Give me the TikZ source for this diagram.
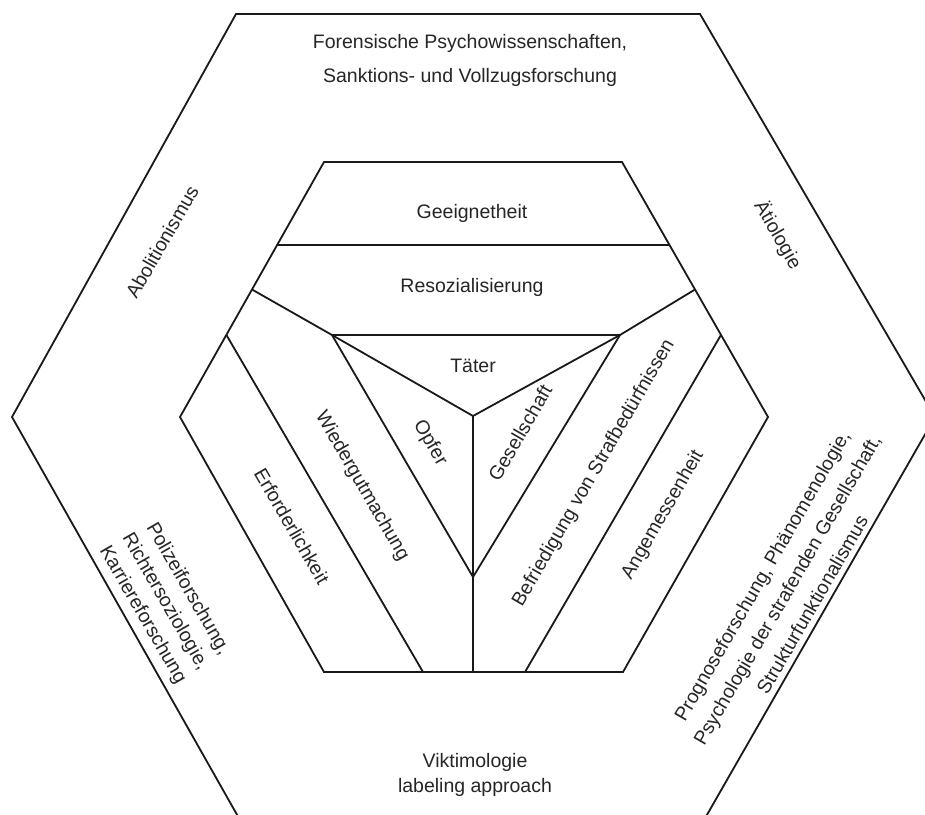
\documentclass[tikz,border=0pt]{standalone}
\usepackage{fontspec}
\setmainfont{Liberation Sans}
\usetikzlibrary{calc}
\begin{document}
\begin{tikzpicture}[x=1pt,y=-1pt,
  frame/.style={line width=1.8pt, line join=miter, draw=black!90},
  lbl/.style={font=\fontsize{19.5}{26}\selectfont, text=black!85, align=center, inner sep=0pt}]
\useasboundingbox (0,0) rectangle (925,814);
\fill[white] (0,0) rectangle (925,814);
\clip (0,0) rectangle (925,814);

% outer hexagon
\coordinate (o1) at (236,14);
\coordinate (o2) at (700,14);
\coordinate (o3) at (935,417);
\coordinate (o4) at (704,820);
\coordinate (o5) at (240,820);
\coordinate (o6) at (12,417);
% inner hexagon
\coordinate (h1) at (324,162);
\coordinate (h2) at (622,162);
\coordinate (h3) at (768,417);
\coordinate (h4) at (623,672);
\coordinate (h5) at (324,672);
\coordinate (h6) at (180,417);
% dividing points on the inner hexagon
\coordinate (gL) at ($(h1)!0.325!(h6)$);
\coordinate (gR) at ($(h2)!0.325!(h3)$);
\coordinate (rL) at ($(h1)!0.5!(h6)$);
\coordinate (rR) at ($(h2)!0.5!(h3)$);
\coordinate (sL) at ($(h1)!0.678!(h6)$);
\coordinate (sR) at ($(h2)!0.678!(h3)$);
\coordinate (bL) at (423,672);
\coordinate (bM) at (473,672);
\coordinate (bR) at (525,672);
% central triangle
\coordinate (t1) at (332,335);
\coordinate (t2) at (620,335);
\coordinate (c)  at (473,416);
\coordinate (b)  at (473,577);

\draw[frame] (o1)--(o2)--(o3)--(o4)--(o5)--(o6)--cycle;
\draw[frame] (h1)--(h2)--(h3)--(h4)--(h5)--(h6)--cycle;
\draw[frame] (gL)--(gR);
\draw[frame] (rL)--(t1)--(t2)--(rR);
\draw[frame] (t1)--(c)--(t2);
\draw[frame] (t1)--(b)--(t2);
\draw[frame] (c)--(bM);
\draw[frame] (sL)--(bL);
\draw[frame] (sR)--(bR);

% outer ring
\node[lbl, font=\fontsize{19.5}{34}\selectfont] (forens) at (470,60)
  {Forensische Psychowissenschaften,\\Sanktions- und Vollzugsforschung};
\node[lbl, rotate=60] (abol) at (162,242) {Abolitionismus};
\node[lbl, rotate=-60] (aetio) at (778,235) {Ätiologie};
\node[lbl, rotate=-60] (polizei) at (165,602)
  {Polizeiforschung,\\Richtersoziologie,\\Karriereforschung};
\node[lbl, rotate=60, font=\fontsize{19.5}{29}\selectfont] (progn) at (787,590)
  {Prognoseforschung, Phänomenologie,\\Psychologie der strafenden Gesellschaft,\\Strukturfunktionalismus};
\node[lbl, font=\fontsize{19.5}{25}\selectfont] (vikt) at (475,775)
  {Viktimologie\\labeling approach};

% inner hexagon
\node[lbl] (geeig) at (472,213) {Geeignetheit};
\node[lbl] (resoz) at (472,287) {Resozialisierung};
\node[lbl] (taeter) at (473,366) {Täter};
\node[lbl, rotate=-60] (opfer) at (430,443) {Opfer};
\node[lbl, rotate=60] (gesell) at (520,433) {Gesellschaft};
\node[lbl, rotate=-60] (wieder) at (362,486) {Wiedergutmachung};
\node[lbl, rotate=-60] (erford) at (292,526) {Erforderlichkeit};
\node[lbl, rotate=60] (befried) at (594,473) {Befriedigung von Strafbedürfnissen};
\node[lbl, rotate=60] (angem) at (663,515) {Angemessenheit};
\end{tikzpicture}
\end{document}
